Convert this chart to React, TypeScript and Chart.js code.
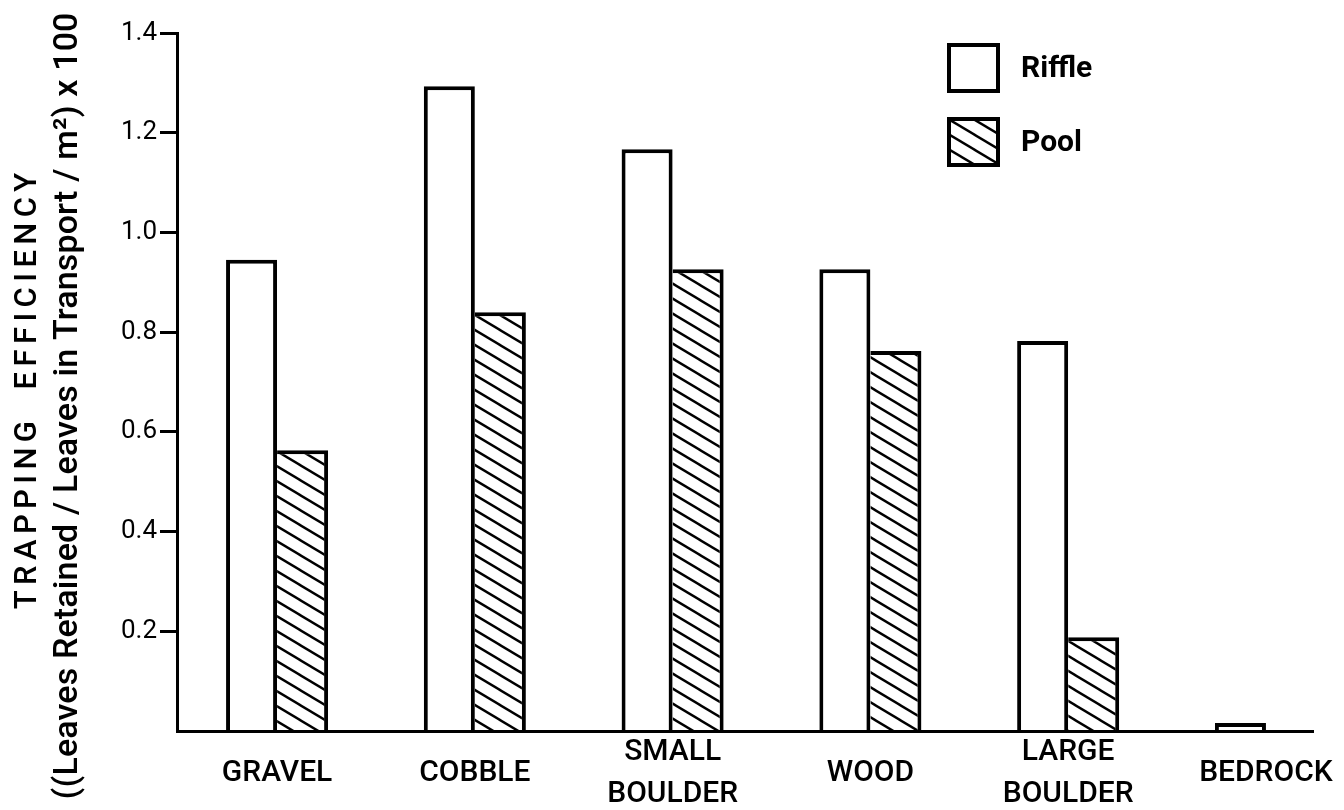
import React, { useEffect, useRef } from "react";
import { Chart, registerables } from "chart.js";

Chart.register(...registerables);

// ---- data ----
const categories: string[][] = [
  ["GRAVEL"],
  ["COBBLE"],
  ["SMALL", "BOULDER"],
  ["WOOD"],
  ["LARGE", "BOULDER"],
  ["BEDROCK"],
];
const riffleValues: (number | null)[] = [0.945, 1.293, 1.167, 0.926, 0.782, 0.016];
const poolValues: (number | null)[] = [0.563, 0.84, 0.926, 0.762, 0.188, null];
const seriesLabels = ["Riffle", "Pool"];
const yTickValues = [0.2, 0.4, 0.6, 0.8, 1.0, 1.2, 1.4];
const yTitleLines = [
  "TRAPPING  EFFICIENCY",
  "((Leaves Retained / Leaves in Transport / m\u00B2) x 100",
];

function makeHatch(ctx: CanvasRenderingContext2D): CanvasPattern | string {
  const c = document.createElement("canvas");
  c.width = 25;
  c.height = 15;
  const g = c.getContext("2d");
  if (!g) return "#fff";
  g.fillStyle = "#fff";
  g.fillRect(0, 0, 25, 15);
  g.strokeStyle = "#000";
  g.lineWidth = 2.4;
  for (let k = -1; k <= 1; k++) {
    g.beginPath();
    g.moveTo(-1, 15 * k - 0.6);
    g.lineTo(26, 15 * k + 15 + 0.6);
    g.stroke();
  }
  return ctx.createPattern(c, "repeat") || "#fff";
}

const yTitlePlugin = {
  id: "yTitleCustom",
  afterDraw(chart: any) {
    const ctx: CanvasRenderingContext2D = chart.ctx;
    const specs = [
      { text: yTitleLines[0], x: 36, y: 391, len: 442, font: "500 31px Roboto" },
      { text: yTitleLines[1], x: 77, y: 406, len: 787, font: "500 34px Roboto" },
    ];
    for (const s of specs) {
      ctx.save();
      ctx.translate(s.x, s.y);
      ctx.rotate(-Math.PI / 2);
      ctx.font = s.font;
      (ctx as any).letterSpacing = "0px";
      const w = ctx.measureText(s.text).width;
      const n = Array.from(s.text).length;
      const sp = (s.len - w) / n;
      (ctx as any).letterSpacing = sp.toFixed(2) + "px";
      ctx.textAlign = "center";
      ctx.textBaseline = "alphabetic";
      ctx.fillStyle = "#000";
      ctx.fillText(s.text, sp / 2, 0);
      ctx.restore();
    }
  },
};

const legendPlugin = {
  id: "boxLegend",
  afterDraw(chart: any) {
    const ctx: CanvasRenderingContext2D = chart.ctx;
    chart.data.datasets.forEach((ds: any, i: number) => {
      const x = 947;
      const y = 43 + i * 74;
      const w = 53;
      const h = 50;
      ctx.save();
      ctx.fillStyle = ds.backgroundColor;
      ctx.fillRect(x, y, w, h);
      ctx.lineWidth = 4;
      ctx.strokeStyle = "#000";
      ctx.strokeRect(x + 2, y + 2, w - 4, h - 4);
      ctx.fillStyle = "#000";
      ctx.font = "bold 30px Roboto";
      ctx.textAlign = "left";
      ctx.textBaseline = "middle";
      ctx.fillText(ds.label, 1021, y + h / 2 + 1);
      ctx.restore();
    });
  },
};

export default function App() {
  const canvasRef = useRef<HTMLCanvasElement | null>(null);

  useEffect(() => {
    const canvas = canvasRef.current;
    if (!canvas) return;
    const ctx = canvas.getContext("2d");
    if (!ctx) return;
    const hatch = makeHatch(ctx);

    const chart = new Chart(ctx, {
      type: "bar",
      data: {
        datasets: [
          {
            label: seriesLabels[0],
            data: riffleValues.map((y, i) => ({ x: i, y })) as any,
            backgroundColor: "#ffffff",
            borderColor: "#000000",
            borderWidth: { top: 4, left: 4, right: 4, bottom: 0 } as any,
            categoryPercentage: 0.516,
            barPercentage: 1,
          },
          {
            label: seriesLabels[1],
            data: poolValues.map((y, i) => ({ x: i, y })) as any,
            backgroundColor: hatch as any,
            borderColor: "#000000",
            borderWidth: { top: 4, left: 0, right: 4, bottom: 0 } as any,
            categoryPercentage: 0.516,
            barPercentage: 1,
          },
        ],
      },
      options: {
        animation: false,
        responsive: false,
        layout: { padding: { top: 33, right: 31, left: 0, bottom: 0 } },
        plugins: {
          legend: { display: false },
          tooltip: { enabled: false },
          title: { display: false },
        },
        scales: {
          x: {
            type: "linear",
            offset: false,
            min: -0.506,
            max: 5.238,
            afterBuildTicks: (s: any) => {
              s.ticks = categories.map((_, i) => ({ value: i }));
            },
            afterFit: (s: any) => {
              s.height = 79;
              s.paddingLeft = 0;
              s.paddingRight = 0;
            },
            grid: { display: false, drawTicks: false, offset: false },
            border: { display: true, color: "#000", width: 3, z: 1 },
            ticks: {
              color: "#000",
              font: { family: "Roboto", size: 30, weight: "500", lineHeight: 1.4 },
              padding: 21,
              crossAlign: "center",
              maxRotation: 0,
              minRotation: 0,
              autoSkip: false,
              callback: (v: any) => categories[Math.round(Number(v))] ?? null,
            },
          },
          y: {
            min: 0,
            max: 1.4,
            afterBuildTicks: (s: any) => {
              s.ticks = yTickValues.map((v) => ({ value: v }));
            },
            afterFit: (s: any) => {
              s.width = 177;
            },
            grid: {
              display: true,
              drawOnChartArea: false,
              drawTicks: true,
              tickLength: 17,
              color: "#000",
              lineWidth: 3,
            },
            border: { display: true, color: "#000", width: 3, z: 1 },
            ticks: {
              color: "#000",
              font: { family: "Roboto", size: 26 },
              padding: 3,
              callback: (v: any) => Number(v).toFixed(1),
            },
          },
        },
      } as any,
      plugins: [yTitlePlugin, legendPlugin],
    });

    return () => {
      chart.destroy();
    };
  }, []);

  return (
    <div
      style={{
        position: "absolute",
        left: 0,
        top: 0,
        width: 1344,
        height: 810,
        background: "#fff",
        overflow: "hidden",
      }}
    >
      <canvas ref={canvasRef} width={1344} height={810} style={{ display: "block" }} />
    </div>
  );
}
